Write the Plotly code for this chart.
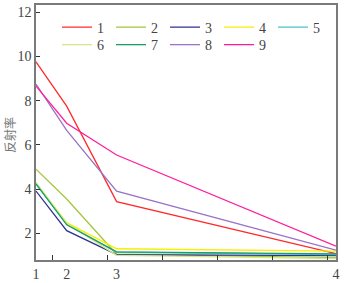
import plotly.graph_objects as go

# band positions on the underlying x scale (labels 1-4)
band_x = [0.352, 0.631, 1.085, 3.079]
band_labels = ["1", "2", "3", "4"]
scale_ticks = [0.5, 1.0, 1.5, 2.0, 2.5, 3.0]

series_names = ["1", "2", "3", "4", "5", "6", "7", "8", "9"]
s1 = [9.76, 7.75, 3.43, 1.08]
s2 = [4.90, 3.55, 1.05, 0.90]
s3 = [3.91, 2.12, 1.03, 0.99]
s4 = [4.26, 2.48, 1.30, 1.19]
s5 = [4.22, 2.42, 1.14, 1.04]
s6 = [4.30, 2.45, 1.00, 0.85]
s7 = [4.24, 2.38, 1.16, 1.07]
s8 = [8.75, 6.66, 3.91, 1.24]
s9 = [8.66, 6.98, 5.54, 1.42]
series_values = [s1, s2, s3, s4, s5, s6, s7, s8, s9]
colors = ["#ff2a2a", "#a4c63e", "#2e3192", "#f7ee00", "#4cc3c9",
          "#d6e68a", "#18a060", "#9a72c6", "#ff1e9a"]

y_ticks = [2, 4, 6, 8, 10, 12]
y_title = "反射率"

fig = go.Figure()
for i, (name, vals, col) in enumerate(zip(series_names, series_values, colors)):
    fig.add_trace(go.Scatter(
        x=band_x, y=vals, mode="lines", name=name,
        line=dict(color=col, width=1.3),
        legend="legend" if i < 5 else "legend2",
    ))

axis_color = "#7a7a7a"
font_serif = "Liberation Serif, Times New Roman, serif"

legend_common = dict(
    orientation="h", bgcolor="rgba(0,0,0,0)",
    font=dict(family=font_serif, size=14, color="#444"),
    entrywidth=9, entrywidthmode="pixels",
    tracegroupgap=0, itemwidth=30,
    xanchor="left", yanchor="middle",
)

fig.update_layout(
    width=344, height=283,
    margin=dict(l=36, r=8, t=5, b=23, autoexpand=False),
    plot_bgcolor="white", paper_bgcolor="white",
    showlegend=True,
    legend=dict(x=0.07, y=0.912, **legend_common),
    legend2=dict(x=0.07, y=0.843, **legend_common),
    xaxis=dict(
        range=[band_x[0], band_x[-1] + 0.0005],
        tickvals=band_x, ticktext=band_labels,
        ticks="", showgrid=False, zeroline=False, automargin=False,
        ticklabeloverflow="allow",
        showline=True, linecolor=axis_color, linewidth=1.5, mirror=True,
        tickfont=dict(family=font_serif, size=14, color="#444"),
        minor=dict(tickvals=scale_ticks, ticks="inside", ticklen=5,
                   tickcolor="#333", tickwidth=1, showgrid=False),
    ),
    yaxis=dict(
        range=[0.79, 12.33],
        tickvals=y_ticks,
        ticks="inside", ticklen=4, tickcolor="#333",
        showgrid=False, zeroline=False, automargin=False,
        showline=True, linecolor=axis_color, linewidth=1.5, mirror=True,
        tickfont=dict(family=font_serif, size=14, color="#444"),
    ),
    annotations=[dict(
        text=y_title, xref="paper", yref="paper",
        x=-0.09, y=0.49, textangle=-90, showarrow=False,
        xanchor="center", yanchor="middle",
        font=dict(family="Noto Sans CJK SC", size=12, color="#777"),
    )],
)

fig.write_html(
    "out.html",
    config={"displayModeBar": False},
    post_script="document.body.style.margin='0';document.body.style.padding='0';",
)
